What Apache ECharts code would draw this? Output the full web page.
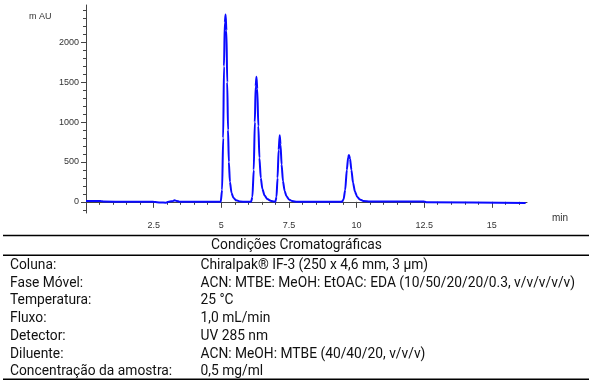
<!DOCTYPE html>
<html>
<head>
<meta charset="utf-8">
<script src="https://cdn.jsdelivr.net/npm/echarts@6/dist/echarts.min.js"></script>
<style>html,body{margin:0;padding:0;background:#fff}#c{width:593px;height:382px}</style>
</head>
<body>
<div id="c"></div>
<script>
// Retention time (min)
const times = [
  0, 0.55, 0.65, 1.5, 2.5, 2.75, 2.95, 3.1, 3.2, 3.27, 3.35, 3.45, 3.8, 3.9, 4.98,
  5.03, 5.07, 5.10, 5.13, 5.16, 5.19, 5.22, 5.25, 5.28, 5.32, 5.38, 5.45, 5.55, 5.7, 5.9,
  6.10, 6.15, 6.20, 6.24, 6.27, 6.30, 6.33, 6.37, 6.41, 6.46, 6.52, 6.60, 6.70, 6.85, 6.95,
  7.00, 7.04, 7.08, 7.12, 7.16, 7.19, 7.23, 7.28, 7.34, 7.41, 7.50, 7.62, 7.8, 9.45,
  9.52, 9.58, 9.64, 9.69, 9.72, 9.76, 9.81, 9.87, 9.94, 10.02, 10.12, 10.25, 10.5, 12.5, 12.6, 16.25
];
// Detector signal (mAU)
const signal = [
  12, 10, 3, 1, 0, -8, -10, 5, 8, 20, 12, 2, 2, 0, 0,
  150, 800, 1700, 2250, 2350, 2150, 1500, 900, 500, 250, 110, 50, 20, 5, 0,
  0, 60, 400, 1000, 1450, 1570, 1420, 950, 550, 300, 160, 80, 35, 10, 5,
  0, 60, 300, 650, 835, 720, 470, 260, 140, 70, 30, 10, 0, 0,
  30, 150, 400, 560, 588, 540, 400, 240, 130, 65, 30, 12, 5, 3, -5, -15
];
// Axis tick labels
const xLabelValues = [2.5, 5, 7.5, 10, 12.5, 15];
const xMinorTicks = [0.5,1,1.5,2,3,3.5,4,4.5,5.5,6,6.5,7,8,8.5,9,9.5,10.5,11,11.5,12,13,13.5,14,14.5,15.5,16];
const yLabelValues = [0, 500, 1000, 1500, 2000];
const yMinorTicks = [-100,100,200,300,400,600,700,800,900,1100,1200,1300,1400,1600,1700,1800,1900,2100,2200,2300,2400];
// Table
const tableTitle = 'Condições Cromatográficas';
const tableLabels = ['Coluna:', 'Fase Móvel:', 'Temperatura:', 'Fluxo:', 'Detector:', 'Diluente:', 'Concentração da amostra:'];
const tableValues = ['Chiralpak® IF-3 (250 x 4,6 mm, 3 µm)', 'ACN: MTBE: MeOH: EtOAC: EDA (10/50/20/20/0.3, v/v/v/v/v)', '25 °C', '1,0 mL/min', 'UV 285 nm', 'ACN: MeOH: MTBE (40/40/20, v/v/v)', '0,5 mg/ml'];

const data = times.map((t, i) => [t, signal[i]]);
const XMIN = 0, XMAX = 16.3, YMIN = -140, YMAX = 2470;
const axisColor = '#444';
const labelFont = {fontFamily: 'Liberation Sans', fontSize: 9, color: '#333'};

const graphic = [];
graphic.push({type: 'text', left: 29, top: 12, style: {text: 'm AU', font: '9px "Liberation Sans"', fill: '#333'}});
graphic.push({type: 'text', left: 552, top: 213, style: {text: 'min', font: '10px "Liberation Sans"', fill: '#333'}});
const lineStyle = {stroke: '#000', lineWidth: 1.5};
[235.5, 255.3, 379.3].forEach(y => graphic.push({type: 'line', shape: {x1: 3, y1: y, x2: 589, y2: y}, style: lineStyle, silent: true}));
const tFont = '13.8px Roboto';
graphic.push({type: 'text', x: 296.5, y: 246, style: {text: tableTitle, font: tFont, fill: '#111', textAlign: 'center', textVerticalAlign: 'middle'}});
tableLabels.forEach((lab, i) => {
  const y = 265.5 + i * 17.75;
  graphic.push({type: 'text', x: 10, y: y, style: {text: lab, font: tFont, fill: '#111', textAlign: 'left', textVerticalAlign: 'middle'}});
  graphic.push({type: 'text', x: 200.5, y: y, style: {text: tableValues[i], font: tFont, fill: '#111', textAlign: 'left', textVerticalAlign: 'middle'}});
});

const chart = echarts.init(document.getElementById('c'), null, {renderer: 'canvas'});
chart.setOption({
  animation: false,
  backgroundColor: '#fff',
  grid: {left: 86, right: 66, top: 5, bottom: 169, containLabel: false},
  xAxis: [{
    type: 'value', min: XMIN, max: XMAX, position: 'bottom',
    axisLine: {show: true, lineStyle: {color: axisColor, width: 1}},
    axisTick: {show: true, length: 6, customValues: xLabelValues, lineStyle: {color: axisColor}},
    axisLabel: {show: true, customValues: xLabelValues, margin: 8, ...labelFont, formatter: v => String(v)},
    splitLine: {show: false}
  }, {
    type: 'value', min: XMIN, max: XMAX, position: 'bottom',
    axisLine: {show: false},
    axisTick: {show: true, length: 3, customValues: xMinorTicks, lineStyle: {color: axisColor}},
    axisLabel: {show: false},
    splitLine: {show: false}
  }],
  yAxis: [{
    type: 'value', min: YMIN, max: YMAX, position: 'left',
    axisLine: {show: true, lineStyle: {color: axisColor, width: 1}},
    axisTick: {show: true, length: 5, customValues: yLabelValues, lineStyle: {color: axisColor}},
    axisLabel: {show: true, customValues: yLabelValues, margin: 7, ...labelFont, formatter: v => String(v)},
    splitLine: {show: false}
  }, {
    type: 'value', min: YMIN, max: YMAX, position: 'left',
    axisLine: {show: false},
    axisTick: {show: true, length: 3, customValues: yMinorTicks, lineStyle: {color: axisColor}},
    axisLabel: {show: false},
    splitLine: {show: false}
  }],
  series: [{
    type: 'line', data: data, xAxisIndex: 0, yAxisIndex: 0,
    showSymbol: false, smooth: 0.25, smoothMonotone: 'x',
    lineStyle: {color: '#0a0aff', width: 2},
    clip: true
  }],
  graphic: graphic
});
</script>
</body>
</html>
